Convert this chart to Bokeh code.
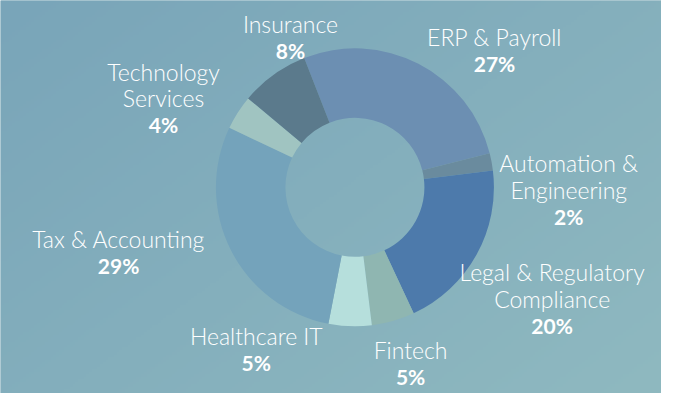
import numpy as np
from bokeh.plotting import figure
from bokeh.models import Range1d, ColumnDataSource
from bokeh.core.properties import value
from bokeh.embed import file_html
from bokeh.resources import INLINE

# ---- data ----
categories = ["ERP & Payroll", "Automation & Engineering", "Legal & Regulatory Compliance",
              "Fintech", "Healthcare IT", "Tax & Accounting", "Technology Services", "Insurance"]
values = [27, 2, 20, 5, 5, 29, 4, 8]
label_lines = [["ERP & Payroll"], ["Automation &", "Engineering"], ["Legal & Regulatory", "Compliance"],
               ["Fintech"], ["Healthcare IT"], ["Tax & Accounting"], ["Technology", "Services"], ["Insurance"]]

# ---- style / layout ----
colors = ["#6c8fb2", "#6a8b9e", "#4d7aab", "#8fb6b1", "#b6dfdc", "#74a3bb", "#a0c4c1", "#5b7a8c"]
START_DEG = -21.4          # clockwise from 12 o'clock
CX, CY = 363, 200          # donut centre (reference pixels)
# label anchor (x centre, baseline of percentage line) in reference pixels
label_pos = [(506, 67), (582, 231), (565, 348), (420, 403), (262, 388), (121, 284), (167, 133), (297, 53)]
LINE = 28.5
W, H = 677, 409

p = figure(width=661, height=393, output_backend="svg", toolbar_location=None,
           x_range=Range1d(0, W), y_range=Range1d(-12.4, H + 0.7),
           x_axis_location=None, y_axis_location=None, min_border=0)
p.grid.visible = False
p.outline_line_color = None
p.background_fill_color = "#82adbc"
p.border_fill_color = "#82adbc"

# gradient background (row 0 = bottom)
ny, nx = 160, 240
yy, xx = np.mgrid[0:ny, 0:nx]
tt = 0.55 * (xx / (nx - 1)) + 0.45 * (1 - yy / (ny - 1))
c0 = np.array([121, 165, 185])
c1 = np.array([143, 185, 192])
img = np.empty((ny, nx), dtype=np.uint32)
view = img.view(dtype=np.uint8).reshape((ny, nx, 4))
for k in range(3):
    view[:, :, k] = (c0[k] + (c1[k] - c0[k]) * tt).astype(np.uint8)
view[:, :, 3] = 255
p.image_rgba(image=[img], x=0, y=-13, dw=W, dh=H + 14)

# donut
total = float(sum(values))
cum = np.concatenate([[0], np.cumsum(values)])
start_cw = START_DEG + cum[:-1] / total * 360.0
end_cw = START_DEG + cum[1:] / total * 360.0
src = ColumnDataSource(dict(cat=categories, val=values, color=colors,
                            start=np.deg2rad(90 - start_cw), end=np.deg2rad(90 - end_cw)))
p.annular_wedge(x=CX, y=H - CY, inner_radius=69.5, outer_radius=139,
                inner_radius_units="screen", outer_radius_units="screen",
                start_angle="start", end_angle="end", direction="clock",
                fill_color="color", line_color=None, source=src)

# labels
nx_, ny_, nt = [], [], []
px, py, pt = [], [], []
for lines, v, (lx, ly) in zip(label_lines, values, label_pos):
    px.append(lx); py.append(H - ly); pt.append(f"{v}%")
    n = len(lines)
    for i, ln in enumerate(lines):
        nx_.append(lx); ny_.append(H - (ly - LINE * (n - i))); nt.append(ln)

p.text(x=nx_, y=ny_, text=nt, text_align="center", text_baseline="alphabetic",
       text_font=value("Lato Light"), text_font_size="23px", text_color="#ffffff")
p.text(x=px, y=py, text=pt, text_align="center", text_baseline="alphabetic",
       text_font=value("Lato"), text_font_style="bold", text_font_size="21px", text_color="#ffffff")

open("out.html", "w").write(file_html(p, INLINE))
